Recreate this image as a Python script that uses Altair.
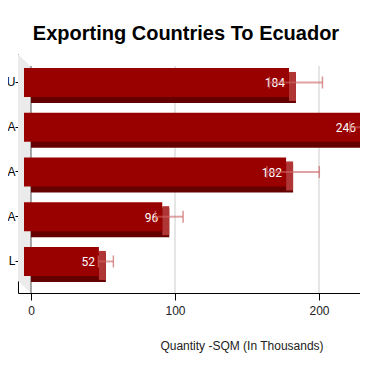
import altair as alt
import pandas as pd

# ---- data ----
cat_ids = ["c1", "c2", "c3", "c4", "c5"]
cat_labels = ["U", "A", "A", "A", "L"]
values = [184, 246, 182, 96, 52]
errors = [18.4, 24.6, 18.2, 9.6, 5.2]
tick_values = [0, 100, 200]

PLOT_W = 342
X_MIN = -9.03
X_MAX = X_MIN + PLOT_W / 1.44

df = pd.DataFrame({
    "id": cat_ids,
    "label": cat_labels,
    "value": values,
    "err": errors,
})
df["zero"] = 0
df["lo"] = df["value"] - df["err"]
df["hi"] = df["value"] + df["err"]
df["txt"] = df["value"].astype(str)
# keep value labels of bars that run past the visible area inside the plot
df["lx"] = df["value"].clip(upper=X_MAX + 7 / 1.44)

grid_df = pd.DataFrame({"t": tick_values})

xscale = alt.Scale(domain=[X_MIN, X_MAX], nice=False, zero=False)

label_map = "{" + ",".join(f"'{i}':'{l}'" for i, l in zip(cat_ids, cat_labels)) + "}"
yscale = alt.Scale(domain=cat_ids, paddingInner=0.352, paddingOuter=0.3465, align=0.45)

FRONT = "#990000"
SIDE = "#b03535"
BOTTOM = "#650000"

x_axis = alt.Axis(
    values=tick_values, grid=False, domainColor="#000000", tickColor="#000000",
    tickSize=7, labelFontSize=12, labelColor="#222222", labelPadding=5,
    labelFont="Liberation Sans", title="Quantity -SQM (In Thousands)",
    titleFont="Liberation Sans", titleFontSize=12, titleFontWeight="normal",
    titleColor="#222222", titleX=223.5, titleY=56, titleAlign="center",
    titleBaseline="alphabetic",
)
y_axis = alt.Axis(
    labelExpr=f"{label_map}[datum.value]", title=None, domainColor="#000000",
    tickColor="#000000", tickSize=3, labelPadding=0, labelFontSize=12,
    labelColor="#000000", labelFont="Liberation Sans",
)

# decorative 3D side wall (parallelogram) in pixel units of an independent y scale
wall_df = pd.DataFrame({"x": [X_MIN, 0], "top": [0, 13], "bot": [227, 239]})
wall = alt.Chart(wall_df).mark_area(color="#ebebeb", opacity=1).encode(
    x=alt.X("x:Q", scale=xscale, axis=x_axis),
    y=alt.Y("top:Q", scale=alt.Scale(domain=[239, 0], nice=False, zero=False), axis=None),
    y2="bot:Q",
)

grid = alt.Chart(grid_df).mark_rule(strokeWidth=1).encode(
    x=alt.X("t:Q", scale=xscale),
    y=alt.value(12),
    y2=alt.value(239),
    color=alt.condition("datum.t == 0", alt.value("#555555"), alt.value("#cccccc")),
)

base = alt.Chart(df)

back = base.mark_bar(color=BOTTOM, yOffset=6, clip=True).encode(
    x=alt.X("value:Q", scale=xscale, axis=x_axis),
    x2="zero:Q",
    y=alt.Y("id:N", scale=yscale, axis=y_axis, sort=cat_ids),
)
side = base.mark_bar(color=SIDE, yOffset=4, xOffset=-7, clip=True).encode(
    x=alt.X("value:Q", scale=xscale),
    x2="value:Q",
    y=alt.Y("id:N", scale=yscale, sort=cat_ids),
)
front = base.mark_bar(color=FRONT, xOffset=-7, x2Offset=-7, clip=True).encode(
    x=alt.X("value:Q", scale=xscale),
    x2="zero:Q",
    y=alt.Y("id:N", scale=yscale, sort=cat_ids),
)
labels = base.mark_text(
    align="right", baseline="middle", dx=-11, dy=1, color="white",
    font="Roboto", fontSize=12, clip=True,
).encode(
    x=alt.X("lx:Q", scale=xscale),
    y=alt.Y("id:N", scale=yscale, sort=cat_ids),
    text="txt:N",
)
err_rule = base.mark_rule(color="#cc6666", opacity=0.6, strokeWidth=2, clip=True).encode(
    x=alt.X("lo:Q", scale=xscale),
    x2="hi:Q",
    y=alt.Y("id:N", scale=yscale, sort=cat_ids),
)
err_lo = base.mark_tick(color="#cc6666", opacity=0.7, thickness=1.5, size=12, clip=True).encode(
    x=alt.X("lo:Q", scale=xscale),
    y=alt.Y("id:N", scale=yscale, sort=cat_ids),
)
err_hi = base.mark_tick(color="#cc6666", opacity=0.7, thickness=1.5, size=12, clip=True).encode(
    x=alt.X("hi:Q", scale=xscale),
    y=alt.Y("id:N", scale=yscale, sort=cat_ids),
)

bars = alt.layer(back, side, front, labels, err_rule, err_lo, err_hi)

chart = alt.layer(wall, grid, bars).resolve_scale(y="independent").properties(
    width=PLOT_W,
    height=239,
    padding={"left": 10, "top": 46, "right": 0, "bottom": 60},
    autosize=alt.AutoSizeParams(type="none"),
    title=alt.TitleParams(
        "Exporting Countries To Ecuador", font="Liberation Sans", fontSize=20,
        fontWeight="bold", color="#000000", anchor="middle", frame="group",
        dx=-3, dy=8, offset=2.5, baseline="alphabetic",
    ),
).configure_view(stroke=None)

chart.save("out.html", embed_options={"renderer": "svg", "actions": False})
